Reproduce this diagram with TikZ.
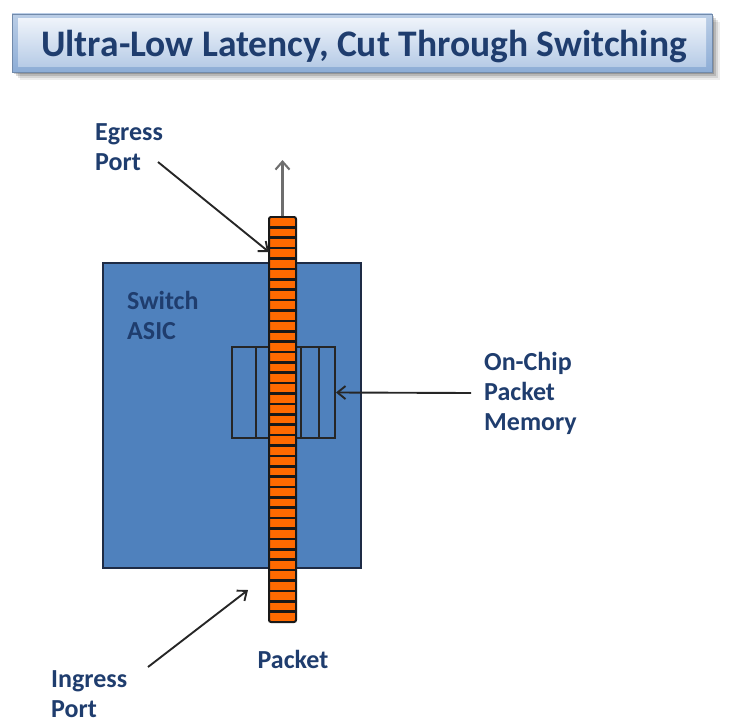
\documentclass[tikz,border=0pt]{standalone}
\usepackage{fontspec}
\setmainfont{Carlito}
\usetikzlibrary{arrows.meta, calc}
\definecolor{cText}{HTML}{1F3D6E}
\definecolor{cAsic}{HTML}{4F81BD}
\definecolor{cEdge}{HTML}{1E2B45}
\definecolor{cPkt}{HTML}{FF6A00}
\definecolor{cTitTop}{HTML}{EEF3FA}
\definecolor{cTitBot}{HTML}{B6CBE6}
\definecolor{cTitRim}{HTML}{8DADD6}
\definecolor{cRef}{HTML}{6E6E6E}

\begin{document}
\begin{tikzpicture}[
    x=1bp, y=-1bp,
    asic/.style={draw=cEdge, line width=2.2pt, fill=cAsic},
    membox/.style={draw=black!85, line width=2pt},
    pkt/.style={draw=black!90, line width=2pt, fill=cPkt, rounded corners=2pt},
    ptr/.style={-{Straight Barb[length=8bp, width=13bp]}, line width=1.9pt, black!85},
    outptr/.style={-{Straight Barb[length=8bp, width=14bp]}, line width=2.1pt, cRef},
    lbl/.style={font=\fontsize{26bp}{30bp}\selectfont\bfseries, text=cText,
                align=left, inner sep=0pt},
    ttl/.style={font=\fontsize{37.5bp}{45bp}\selectfont\bfseries, text=cText,
                inner sep=0pt},
]
\useasboundingbox (0,0) rectangle (731,723);

% ===========================================================================
% Title banner
% ===========================================================================
\foreach \d/\o in {8/0.07, 6/0.10, 4/0.14, 2/0.18}
    \fill[black, opacity=\o] (12+\d,14+\d) rectangle (712+\d,72+\d);
\shade[top color=cTitRim!60, bottom color=cTitRim, draw=cTitRim!80!black,
       line width=0.8pt] (12,14) rectangle (712,72);
\shade[top color=cTitTop, bottom color=cTitBot] (18,19) rectangle (706,67);
\node[ttl, anchor=base] (title) at (364,57)
      {Ultra-Low Latency, Cut Through Switching};

% ===========================================================================
% Switch ASIC with on-chip memory
% ===========================================================================
\node[asic, minimum width=258bp, minimum height=305bp] (asic) at (232,415.5) {};
\node[lbl, anchor=west] (asicLbl) at (127,315) {Switch\\ASIC};

\node[membox, minimum width=103bp, minimum height=91bp] (mem) at (283.5,392.5) {};
\foreach \x in {256, 301, 319}
    \draw[membox] (\x,347) -- (\x,438);

% ----- packet strip cutting through -----
\node[pkt, minimum width=27bp, minimum height=405bp] (strip) at (282.5,419.5) {};
\foreach \k in {1,...,38}
    \draw[line width=2.6pt, black!90] (269.5,217+\k*10.385) -- (295.5,217+\k*10.385);
\node[lbl, anchor=center] (pktLbl) at (293,659) {Packet};

% ===========================================================================
% Labels and arrows
% ===========================================================================
\coordinate (outTip) at (282.5,160);
\draw[outptr] (strip.north) -- (outTip);

\node[lbl, anchor=west] (egress) at (95,147) {Egress\\Port};
\coordinate (egressTail) at (158,162);
\coordinate (egressIn) at (269,252);
\draw[ptr] (egressTail) -- (egressIn);

\node[lbl, anchor=west] (memLbl) at (484,393) {On-Chip\\Packet\\Memory};
\draw[ptr] ([xshift=-13bp]memLbl.west) -- (mem.east);

\node[lbl, anchor=west] (ingress) at (51,694) {Ingress\\Port};
\coordinate (ingressTail) at (148,667);
\coordinate (ingressIn) at (248,590);
\draw[ptr] (ingressTail) -- (ingressIn);

\end{tikzpicture}
\end{document}
